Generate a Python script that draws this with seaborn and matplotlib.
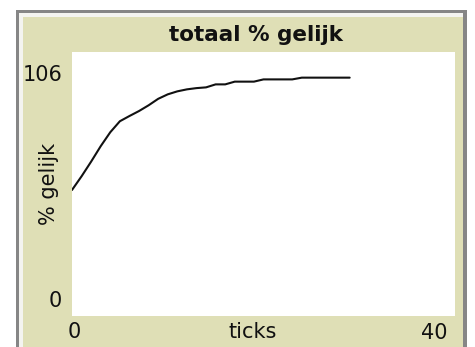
import matplotlib
matplotlib.use("Agg")
import matplotlib.pyplot as plt
from matplotlib.patches import Rectangle
import seaborn as sns
import pandas as pd

# Percentage of similar neighbours per tick
ticks = list(range(30))
pct_gelijk = [50.6, 56.1, 62.0, 68.2, 73.8, 78.2, 80.3, 82.3, 84.6, 87.2,
              89.0, 90.2, 91.0, 91.5, 91.8, 93.0, 93.0, 94.1, 94.1, 94.1,
              95.0, 95.0, 95.0, 95.0, 95.7, 95.7, 95.7, 95.7, 95.7, 95.7]

x_range = (0, 40)
y_range = (0, 106)
title = "totaal % gelijk"
x_label = "ticks"
y_label = "% gelijk"

df = pd.DataFrame({"ticks": ticks, "pct": pct_gelijk})

W, H = 475, 347
sns.set_style("white")
plt.rcParams["font.family"] = ["DejaVu Sans"]

fig = plt.figure(figsize=(W / 100, H / 100), dpi=100)
fig.patch.set_facecolor("white")


def px_rect(x0, y0, x1, y1, color):
    """Rectangle given in pixel coordinates measured from the top-left corner."""
    fig.patches.append(Rectangle((x0 / W, 1 - y1 / H), (x1 - x0) / W, (y1 - y0) / H,
                                 transform=fig.transFigure, facecolor=color,
                                 edgecolor="none", zorder=-5))


# Widget frame: gray edge, thin highlight, beige panel
px_rect(16, 10, 467, H + 5, "#868686")
px_rect(18.5, 12.5, 463, H + 5, "#f4f4f0")
px_rect(22.5, 16.5, 463, H + 5, "#dfdfb6")

ax = fig.add_axes([72 / W, 1 - 316 / H, 383 / W, 264 / H])
ax.set_zorder(2)
ax.set_facecolor("white")
sns.lineplot(data=df, x="ticks", y="pct", ax=ax, color="#111111", linewidth=1.5)
ax.set_xlim(*x_range)
ax.set_ylim(*y_range)
ax.set_xticks([])
ax.set_yticks([])
ax.set_xlabel("")
ax.set_ylabel("")
for s in ax.spines.values():
    s.set_visible(False)


def px_text(x, y, s, **kw):
    fig.text(x / W, 1 - y / H, s, color="#111111", zorder=3, **kw)


fs = 15
px_text(256, 35, title, ha="center", va="center", fontsize=15.5, fontweight="bold")
px_text(63, 75, str(y_range[1]), ha="right", va="center", fontsize=fs)
px_text(62, 301, str(y_range[0]), ha="right", va="center", fontsize=fs)
px_text(74, 332, str(x_range[0]), ha="center", va="center", fontsize=fs)
px_text(448, 333, str(x_range[1]), ha="right", va="center", fontsize=fs)
px_text(253, 332, x_label, ha="center", va="center", fontsize=fs)
px_text(49, 184, y_label, ha="center", va="center", fontsize=fs, rotation=90)

fig.savefig("out.png", dpi=100)
